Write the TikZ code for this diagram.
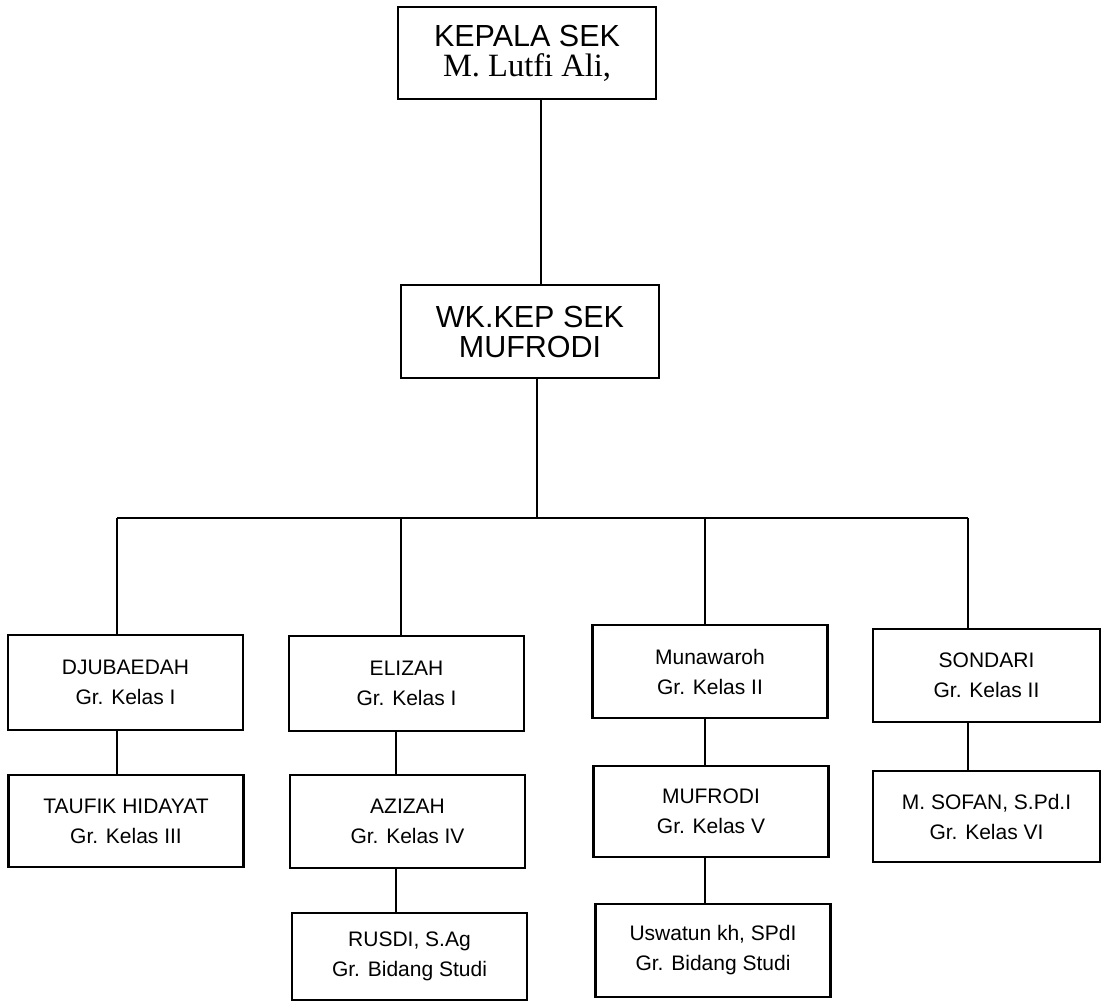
\documentclass[tikz,border=0pt]{standalone}
\usepackage{fontspec}
\setmainfont{Liberation Sans}
\newfontfamily\namefont{Liberation Serif}
\usetikzlibrary{calc}

\begin{document}
\begin{tikzpicture}[
        x=1pt, y=-1pt,
        box/.style={rectangle, draw=black, line width=2.4pt, minimum width=235pt, minimum height=93pt, inner sep=0pt, align=center, font=\fontsize{21}{30}\selectfont},
        headbox/.style={box, minimum width=258pt, minimum height=92pt, font=\fontsize{30.5}{30}\selectfont},
        link/.style={line width=2.2pt, black}
    ]
        \useasboundingbox (0,0) rectangle (1109,1004);

        % Nodes
        \node[headbox] (kepala) at (527,53) {KEPALA SEK\\{\namefont\fontsize{32.5}{30}\selectfont M. Lutfi Ali,}};
        \node[headbox, minimum height=93pt] (wk) at (530,331.5) {WK.KEP SEK\\MUFRODI};

        \node[box, minimum height=95pt] (djub) at (125.5,682.5) {DJUBAEDAH\\Gr. Kelas I};
        \node[box, minimum height=95pt] (eliz) at (406.5,683.5) {ELIZAH\\Gr. Kelas I};
        \node[box] (muna) at (710,671.5) {Munawaroh\\Gr. Kelas II};
        \node[box, minimum width=227pt] (sond) at (986.5,675.5) {SONDARI\\Gr. Kelas II};

        \node[box, minimum height=92pt] (taufik) at (126,821) {TAUFIK HIDAYAT\\Gr. Kelas III};
        \node[box] (azizah) at (407.5,821.5) {AZIZAH\\Gr. Kelas IV};
        \node[box, minimum height=91pt] (mufrodi) at (711,811.5) {MUFRODI\\Gr. Kelas V};
        \node[box, minimum width=227pt, minimum height=91pt] (sofan) at (986.5,816.5) {M. SOFAN, S.Pd.I\\Gr. Kelas VI};

        \node[box, minimum height=87pt] (rusdi) at (409.5,956.5) {RUSDI, S.Ag\\Gr. Bidang Studi};
        \node[box] (uswatun) at (713,950.5) {Uswatun kh, SPdI\\Gr. Bidang Studi};

        % Bus points
        \coordinate (hub) at (537,518);
        \coordinate (b1) at (117,518);
        \coordinate (b2) at (401,518);
        \coordinate (b3) at (705,518);
        \coordinate (b4) at (968,518);
        \coordinate (k) at ($(kepala.south)+(14,0)$);

        % Lines
        \draw[link] (k) -- (k |- wk.north);
        \draw[link] (hub |- wk.south) -- (hub);
        \draw[link] (b1) -- (b4);
        \draw[link] (b1) -- (b1 |- djub.north);
        \draw[link] (b2) -- (b2 |- eliz.north);
        \draw[link] (b3) -- (b3 |- muna.north);
        \draw[link] (b4) -- (b4 |- sond.north);

        \draw[link] (djub.south -| b1) -- (taufik.north -| b1);
        \draw[link] ([xshift=-5pt]eliz.south -| b2) -- ([xshift=-5pt]azizah.north -| b2);
        \draw[link] ([xshift=-5pt]azizah.south -| b2) -- ([xshift=-5pt]rusdi.north -| b2);
        \draw[link] (muna.south -| b3) -- (mufrodi.north -| b3);
        \draw[link] (mufrodi.south -| b3) -- (uswatun.north -| b3);
        \draw[link] (sond.south -| b4) -- (sofan.north -| b4);

    \end{tikzpicture}
\end{document}
